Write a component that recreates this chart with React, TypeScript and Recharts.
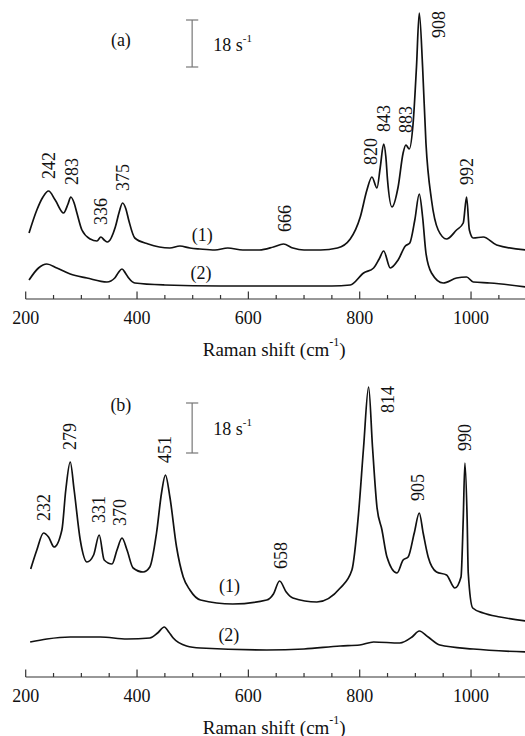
import { LineChart, Line, XAxis, YAxis, ReferenceDot, ReferenceLine, Label } from 'recharts';

const FONT = "'Liberation Serif', 'Times New Roman', 'DejaVu Serif', serif";
const INK = '#111';
const TXT = { fontFamily: FONT };

// panel (a), spectrum (1)
const shiftA1 = [206, 220, 231, 241, 253, 268, 276, 281, 287, 292, 301, 316, 328, 335, 341, 347, 361, 368, 374, 380, 385, 396, 420, 459, 477, 495, 513, 540, 563, 590, 620, 645, 663, 680, 700, 730, 760, 783, 801, 813, 822, 831, 837, 843, 847, 850, 858, 869, 878, 883, 889, 896, 902, 907, 913, 919, 929, 941, 956, 974, 986, 992, 997, 1004, 1022, 1046, 1100];
const countsA1 = [59, 82, 95, 101, 92, 79, 88, 95, 89, 79, 62, 53, 51, 55, 52, 50, 65, 80, 89, 83, 72, 54, 48, 44, 46, 44, 43, 42, 44, 42, 42, 45, 48, 44, 42, 42, 44, 53, 75, 102, 115, 104, 125, 148, 135, 112, 85, 105, 139, 147, 143, 169, 225, 279, 225, 149, 92, 62, 53, 62, 69, 95, 62, 54, 55, 47, 42];

// panel (a), spectrum (2)
const shiftA2 = [206, 223, 238, 256, 280, 310, 346, 360, 366, 373, 379, 385, 396, 450, 550, 650, 750, 783, 807, 825, 835, 843, 855, 869, 882, 890, 899, 907, 913, 919, 929, 950, 974, 992, 1004, 1034, 1100];
const countsA2 = [12, 24, 28, 24, 18, 14, 10, 14, 19, 23, 19, 14, 9, 7, 6, 6, 6, 7, 19, 24, 33, 41, 24, 32, 46, 49, 72, 98, 75, 39, 19, 9, 14, 15, 10, 9, 5];

// panel (b), spectrum (1)
const shiftB1 = [209, 220, 232, 241, 251, 265, 272, 280, 287, 298, 310, 322, 332, 341, 355, 364, 373, 382, 393, 411, 423, 435, 444, 451, 459, 471, 483, 495, 514, 572, 633, 645, 656, 668, 680, 723, 765, 786, 798, 807, 816, 823, 831, 840, 849, 867, 878, 887, 898, 907, 914, 923, 938, 956, 971, 982, 986, 989, 993, 995, 1003, 1022, 1052, 1100];
const countsB1 = [100, 119, 136, 132, 122, 139, 179, 207, 179, 129, 107, 114, 134, 109, 105, 119, 131, 119, 101, 97, 102, 136, 176, 194, 172, 122, 92, 79, 69, 65, 69, 75, 88, 77, 71, 67, 81, 99, 156, 222, 282, 222, 162, 139, 112, 96, 109, 112, 136, 156, 136, 112, 97, 94, 81, 92, 150, 206, 150, 96, 61, 56, 52, 48];

// panel (b), spectrum (2)
const shiftB2 = [208, 238, 280, 334, 382, 423, 437, 449, 457, 465, 489, 514, 633, 700, 765, 800, 825, 872, 894, 907, 923, 944, 1004, 1100];
const countsB2 = [27, 30, 32, 32, 30, 31, 36, 42, 37, 31, 23, 21, 19, 20, 23, 24, 27, 26, 32, 38, 32, 24, 20, 17];

const xTicks = [200, 250, 300, 350, 400, 450, 500, 550, 600, 650, 700, 750, 800, 850, 900, 950, 1000, 1050, 1100];
const xTickLabels = ['200', '400', '600', '800', '1000'];

const peaksA = ['242', '283', '336', '375', '666', '820', '843', '883', '992'];
const peaksB = ['232', '279', '331', '370', '451', '658', '905', '990'];

const zip = (s: number[], c: number[]) => s.map((shift, i) => ({ shift, counts: c[i] }));

const peakTop = (data: { shift: number; counts: number }[], x: number) =>
  Math.max(...data.filter((d) => Math.abs(d.shift - x) <= 8).map((d) => d.counts));

const renderTick = (props: any) => {
  const { x, y, payload } = props;
  const label = String(payload.value);
  const major = xTickLabels.includes(label);
  return (
    <g>
      <line x1={x} x2={x} y1={y} y2={y - (major ? 7.5 : 4)} stroke="#333" strokeWidth={1.2} />
      {major && (
        <text x={x} y={y + 19} textAnchor="middle" dominantBaseline="central" style={TXT} fontSize={18} fill={INK}>
          {label}
        </text>
      )}
    </g>
  );
};

const renderTitle = (props: any) => {
  const vb = props.viewBox || { x: 25.7, y: 0, width: 501 };
  return (
    <text x={vb.x + vb.width / 2 - 2} y={vb.y + 50} textAnchor="middle" dominantBaseline="central" style={TXT} fontSize={19} fill={INK}>
      Raman shift (cm<tspan dy={-7} fontSize={12}>-1</tspan>
      <tspan dy={7}>)</tspan>
    </text>
  );
};

const vertText = (text: string, anchor = 'start') => (p: any) => (
  <text
    x={p.cx}
    y={p.cy}
    transform={`rotate(-90 ${p.cx} ${p.cy})`}
    textAnchor={anchor}
    dominantBaseline="central"
    style={TXT}
    fontSize={18}
    fill={INK}
  >
    {text}
  </text>
);

const flatText = (text: string, anchor = 'middle') => (p: any) => (
  <text x={p.cx} y={p.cy} textAnchor={anchor} dominantBaseline="central" style={TXT} fontSize={18} fill={INK}>
    {text}
  </text>
);

const unitText = (p: any) => (
  <text x={p.cx} y={p.cy} dominantBaseline="central" style={TXT} fontSize={18} fill={INK}>
    18 s<tspan dy={-7} fontSize={11}>-1</tspan>
  </text>
);

type PanelProps = {
  tag: string;
  d1: { shift: number; counts: number }[];
  d2: { shift: number; counts: number }[];
  peaks: string[];
  side: { text: string; x: number; y: number };
  yDomain: [number, number];
  axisHeight: number;
  height: number;
  tagAt: [number, number];
  oneAt: [number, number];
  twoAt: [number, number];
  bar: [number, number];
};

function Panel({ tag, d1, d2, peaks, side, yDomain, axisHeight, height, tagAt, oneAt, twoAt, bar }: PanelProps) {
  const barX = 499;
  return (
    <LineChart width={527} height={height} margin={{ top: 0, right: 0.3, bottom: 0, left: 25.7 }} style={TXT}>
      <XAxis
        type="number"
        dataKey="shift"
        domain={[200, 1100]}
        ticks={xTicks}
        interval={0}
        tickSize={0}
        tickMargin={0}
        tick={renderTick}
        tickLine={false}
        axisLine={{ stroke: '#333', strokeWidth: 1.2 }}
        height={axisHeight}
        allowDataOverflow
      >
        <Label content={renderTitle} />
      </XAxis>
      <YAxis hide type="number" domain={yDomain} allowDataOverflow />
      <Line data={d1} dataKey="counts" type="monotone" stroke={INK} strokeWidth={1.7} dot={false} isAnimationActive={false} />
      <Line data={d2} dataKey="counts" type="monotone" stroke={INK} strokeWidth={1.7} dot={false} isAnimationActive={false} />

      <ReferenceLine segment={[{ x: barX, y: bar[0] }, { x: barX, y: bar[1] }]} stroke="#777" strokeWidth={1.2} />
      <ReferenceLine segment={[{ x: barX - 11, y: bar[0] }, { x: barX + 11, y: bar[0] }]} stroke="#777" strokeWidth={1.2} />
      <ReferenceLine segment={[{ x: barX - 11, y: bar[1] }, { x: barX + 11, y: bar[1] }]} stroke="#777" strokeWidth={1.2} />
      <ReferenceDot x={barX + 38} y={(bar[0] + bar[1]) / 2 - 1} r={0} shape={unitText} />

      <ReferenceDot x={tagAt[0]} y={tagAt[1]} r={0} shape={flatText(tag)} />
      <ReferenceDot x={oneAt[0]} y={oneAt[1]} r={0} shape={flatText('(1)')} />
      <ReferenceDot x={twoAt[0]} y={twoAt[1]} r={0} shape={flatText('(2)')} />

      {peaks.map((p) => (
        <ReferenceDot key={p} x={Number(p)} y={peakTop(d1, Number(p)) + 12} r={0} shape={vertText(p)} />
      ))}
      <ReferenceDot x={side.x} y={side.y} r={0} shape={vertText(side.text)} />
    </LineChart>
  );
}

export default function App() {
  return (
    <div style={{ position: 'absolute', left: 0, top: 0, width: 525, height: 736, overflow: 'hidden', background: '#fff', fontFamily: FONT }}>
      <div style={{ position: 'absolute', left: 0, top: 0 }}>
        <Panel
          tag="(a)"
          d1={zip(shiftA1, countsA1)}
          d2={zip(shiftA2, countsA2)}
          peaks={peaksA}
          side={{ text: '908', x: 942, y: 254 }}
          yDomain={[-7, 292]}
          axisHeight={65}
          height={364}
          tagAt={[371, 252]}
          oneAt={[517, 57]}
          twoAt={[515, 19]}
          bar={[225, 272]}
        />
      </div>
      <div style={{ position: 'absolute', left: 0, top: 370 }}>
        <Panel
          tag="(b)"
          d1={zip(shiftB1, countsB1)}
          d2={zip(shiftB2, countsB2)}
          peaks={peaksB}
          side={{ text: '814', x: 851, y: 256 }}
          yDomain={[-8, 299]}
          axisHeight={59}
          height={366}
          tagAt={[371, 264]}
          oneAt={[566, 83]}
          twoAt={[565, 34]}
          bar={[216, 266]}
        />
      </div>
    </div>
  );
}
